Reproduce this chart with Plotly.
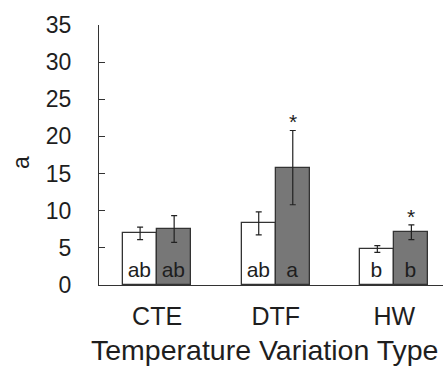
import plotly.graph_objects as go

categories = ["CTE", "DTF", "HW"]
white_vals = [6.95, 8.3, 4.85]
white_err = [0.85, 1.55, 0.45]
gray_vals = [7.55, 15.8, 7.1]
gray_err = [1.8, 5.0, 1.0]
white_letters = ["ab", "ab", "b"]
gray_letters = ["ab", "a", "b"]
gray_marks = ["", "*", "*"]
y_ticks = [0, 5, 10, 15, 20, 25, 30, 35]

FONT = "Arial, Liberation Sans, sans-serif"
TXT = "#1e1e1e"
BW = 0.287
xs = list(range(len(categories)))

fig = go.Figure()
fig.add_trace(go.Bar(
    x=xs, y=white_vals, width=BW, offset=-BW,
    marker=dict(color="white", line=dict(color="#333333", width=1.3)),
    error_y=dict(type="data", array=white_err, color="#222222", thickness=1.2, width=3),
    text=white_letters, textposition="inside", insidetextanchor="start", textangle=0,
    textfont=dict(family=FONT, size=21, color=TXT),
    cliponaxis=False, showlegend=False,
))
fig.add_trace(go.Bar(
    x=xs, y=gray_vals, width=BW, offset=0,
    marker=dict(color="#777777", line=dict(color="#333333", width=1.3)),
    error_y=dict(type="data", array=gray_err, color="#222222", thickness=1.2, width=3),
    text=gray_letters, textposition="inside", insidetextanchor="start", textangle=0,
    textfont=dict(family=FONT, size=21, color=TXT),
    cliponaxis=False, showlegend=False,
))

for i, m in enumerate(gray_marks):
    if m:
        fig.add_annotation(x=xs[i] + BW / 2, y=gray_vals[i] + gray_err[i], text=m,
                           showarrow=False, yanchor="bottom", yshift=-5,
                           font=dict(family=FONT, size=21, color=TXT))

fig.add_annotation(xref="paper", yref="paper", x=(21 - 99) / 344, y=(285 - 163) / 260,
                   xanchor="center", yanchor="middle",
                   text="a", textangle=-90, showarrow=False,
                   font=dict(family=FONT, size=23, color=TXT))

fig.add_annotation(xref="paper", yref="paper", x=(264 - 99) / 344, y=(285 - 350) / 260,
                   xanchor="center", yanchor="middle",
                   text="Temperature Variation Type", showarrow=False,
                   font=dict(family=FONT, size=28.5, color=TXT))

fig.update_layout(
    width=443, height=367,
    margin=dict(l=99, r=0, t=25, b=82),
    plot_bgcolor="white", paper_bgcolor="white",
    font=dict(family=FONT, color=TXT),
    bargap=0, barmode="overlay",
    xaxis=dict(range=[-0.49, 2.41], tickvals=xs, ticktext=categories, showgrid=False,
               showline=True, linecolor="#333333", linewidth=1.3, ticks="",
               tickfont=dict(size=25, family=FONT, color=TXT), ticklabelstandoff=9,
               zeroline=False),
    yaxis=dict(range=[0, 35], tickvals=y_ticks, showgrid=False, zeroline=False,
               showline=True, linecolor="#333333", linewidth=1.3,
               ticks="inside", ticklen=6, tickcolor="#333333", tickwidth=1.2,
               tickfont=dict(size=23, family=FONT, color=TXT), ticklabelstandoff=22),
)

fig.write_html("out.html")
